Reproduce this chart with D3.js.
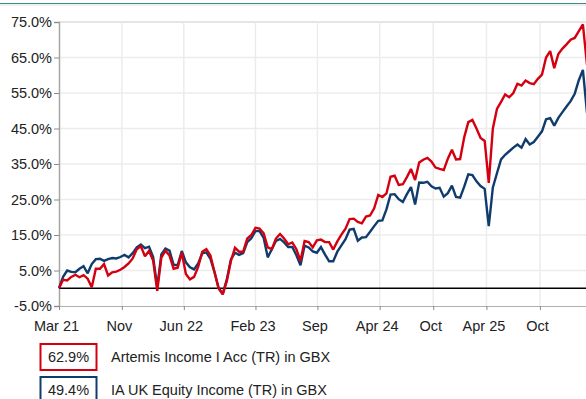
<!DOCTYPE html>
<html>
<head>
<meta charset="utf-8">
<script src="https://cdn.jsdelivr.net/npm/d3@7"></script>
<style>
  html, body { margin: 0; padding: 0; background: #fff; overflow: hidden; }
  svg { display: block; font-family: "Liberation Sans", Arial, sans-serif; }
</style>
</head>
<body>
<svg id="chart" width="586" height="399"></svg>
<script>
// Cumulative total return (%), sampled every 14 days from 31 Mar 2021
const startDate = "2021-03-31";
const stepDays = 14;

const artemis = [
  0, 2.4, 2.2, 3.2, 3.8, 3.1, 3.7, 2.7, 0.3, 5.5,
  5.5, 6.8, 3.6, 4.5, 4.7, 5.2, 6.0, 7.0, 8.4, 11.0,
  11.8, 9.0, 10.5, 7.8, -0.7, 8.6, 10.6, 9.2, 5.5, 5.8,
  10.0, 4.0, 2.5, 3.2, 6.0, 10.3, 11.0, 9.2, 4.5, 0.0,
  -1.7, 2.0, 7.7, 11.4, 10.3, 10.3, 14.0, 15.0, 17.0, 16.8,
  15.5, 11.5, 11.0, 14.0, 15.3, 14.0, 12.4, 12.9, 11.0, 7.7,
  13.3, 13.0, 11.5, 13.5, 13.7, 13.0, 13.0, 10.9, 13.2, 15.1,
  16.8, 19.5, 19.6, 18.7, 18.3, 20.2, 20.5, 22.5, 26.3, 25.7,
  26.7, 31.4, 31.7, 29.1, 29.3, 31.3, 33.6, 30.5, 35.4, 36.2,
  36.7, 35.7, 34.0, 33.6, 33.3, 36.5, 39.0, 36.3, 36.4, 42.5,
  46.8, 47.4, 45.0, 42.3, 41.5, 29.7, 45.0, 50.5, 52.5, 54.6,
  53.8, 55.0, 57.6, 57.1, 58.5, 57.8, 57.5, 59.0, 60.2, 65.0,
  66.8, 62.0, 66.0, 67.5, 68.7, 70.0, 70.5, 72.4, 74.3, 62.9
];

const sector = [
  0, 3.2, 5.0, 4.6, 4.5, 5.5, 6.2, 4.2, 6.8, 8.2,
  8.3, 7.7, 8.2, 8.5, 8.4, 8.8, 9.4, 8.7, 9.9, 11.5,
  12.3, 11.3, 11.7, 8.8, 0.3, 9.5, 11.2, 10.6, 6.6, 6.5,
  10.5, 7.3, 5.9, 5.3, 7.0, 9.8, 10.1, 8.3, 4.5, 0.0,
  -1.6, 2.5, 8.1, 10.0, 9.4, 9.9, 13.0, 14.1, 16.1, 16.1,
  14.2, 8.7, 11.0, 13.3, 13.9, 12.9, 11.6, 11.6, 9.3, 6.5,
  12.0, 11.5, 10.4, 10.0, 11.6, 9.5, 7.6, 7.6, 10.3, 12.1,
  13.8, 16.5, 16.7, 13.4, 14.3, 14.4, 15.9, 17.5, 19.0, 19.1,
  22.2, 26.4, 26.5, 25.1, 24.3, 26.5, 28.5, 23.6, 29.8, 29.7,
  30.0, 28.7, 28.1, 28.3, 25.8, 26.8, 28.9, 25.7, 25.5, 28.6,
  32.1, 31.9, 30.1, 28.8, 28.0, 17.5, 28.4, 32.4, 36.3, 37.6,
  38.6, 39.6, 40.5, 39.6, 42.0, 40.5, 41.2, 42.7, 44.2, 47.6,
  47.9, 45.8, 48.0, 49.6, 51.2, 52.7, 54.8, 58.6, 61.5, 49.4
];

const seriesNames = ["Artemis Income I Acc (TR) in GBX", "IA UK Equity Income (TR) in GBX"];
const seriesColors = ["#d40010", "#0f3c6c"];
const finalLabels = ["62.9%", "49.4%"];

const xTickDates = ["2021-03-31", "2021-11-01", "2022-06-01", "2023-02-01", "2023-09-01",
                    "2024-04-01", "2024-10-01", "2025-04-01", "2025-10-01"];
const xTickLabels = ["Mar 21", "Nov", "Jun 22", "Feb 23", "Sep", "Apr 24", "Oct", "Apr 25", "Oct"];
const yTicks = [-5, 5, 15, 25, 35, 45, 55, 65, 75];

(function draw() {
  const parse = d3.utcParse("%Y-%m-%d");
  const t0 = parse(startDate);
  const dates = artemis.map((_, i) => d3.utcDay.offset(t0, i * stepDays));

  const svg = d3.select("#chart");
  const W = 586;
  const plotLeft = 59, plotTop = 22, plotBottom = 306;
  const plotRight = 587;

  const x = d3.scaleUtc().domain([t0, dates[dates.length - 1]]).range([plotLeft, plotRight]);
  const y = d3.scaleLinear().domain([-5, 75]).range([plotBottom, plotTop]);

  // header rule
  svg.append("line").attr("x1", 0).attr("x2", W).attr("y1", 3.5).attr("y2", 3.5)
    .attr("stroke", "#3b8c84").attr("stroke-width", 1);
  svg.append("line").attr("x1", 0).attr("x2", W).attr("y1", 5).attr("y2", 5)
    .attr("stroke", "#d6e6e4").attr("stroke-width", 1);

  // gridlines
  const grid = svg.append("g").attr("stroke", "#ececec").attr("stroke-width", 1.5);
  yTicks.filter(v => v > -5).forEach(v => {
    const ln = grid.append("line").attr("x1", plotLeft).attr("x2", W)
      .attr("y1", y(v)).attr("y2", y(v));
    if (v === 75) ln.attr("stroke", "#dcdcdc");
  });
  xTickDates.slice(1).forEach(d => {
    grid.append("line").attr("x1", x(parse(d))).attr("x2", x(parse(d)))
      .attr("y1", plotTop).attr("y2", plotBottom);
  });

  // y axis
  const yAxis = d3.axisLeft(y).tickValues(yTicks).tickSize(5).tickPadding(2)
    .tickFormat(v => v.toFixed(1) + "%");
  const gy = svg.append("g").attr("transform", `translate(${plotLeft},0)`).call(yAxis);
  gy.select(".domain").attr("stroke", "#a6a6a6").attr("stroke-width", 1.5);
  gy.selectAll(".tick line").attr("stroke", "#8a8a8a");
  gy.selectAll("text").attr("font-size", "14.5px").attr("fill", "#222")
    .attr("font-family", "'Liberation Sans', Arial, sans-serif");

  // x axis
  const xAxis = d3.axisBottom(x).tickValues(xTickDates.map(parse)).tickSize(4).tickPadding(11)
    .tickFormat((d, i) => xTickLabels[i]);
  const gx = svg.append("g").attr("transform", `translate(0,${plotBottom})`).call(xAxis);
  gx.select(".domain").attr("stroke", "#b0b0b0").attr("stroke-width", 1);
  gx.selectAll(".tick line").attr("stroke", "#8a8a8a");
  gx.selectAll("text").attr("font-size", "14.5px").attr("fill", "#222").attr("dx", "-3")
    .attr("font-family", "'Liberation Sans', Arial, sans-serif");

  // zero line
  svg.append("line").attr("x1", plotLeft).attr("x2", W).attr("y1", y(0)).attr("y2", y(0))
    .attr("stroke", "#000").attr("stroke-width", 1.5);

  // series lines: sector first, fund drawn on top
  const line = d3.line().x((d, i) => x(dates[i])).y(d => y(d));
  [[sector, seriesColors[1]], [artemis, seriesColors[0]]].forEach(([vals, col]) => {
    svg.append("path").datum(vals)
      .attr("d", line)
      .attr("fill", "none")
      .attr("stroke", col)
      .attr("stroke-width", 2.4)
      .attr("stroke-linejoin", "miter")
      .attr("stroke-miterlimit", 2);
  });

  // legend
  const legend = svg.append("g");
  seriesNames.forEach((name, i) => {
    const ly = 344 + i * 33;
    legend.append("rect").attr("x", 40.5).attr("y", ly).attr("width", 56).attr("height", 26)
      .attr("fill", "#fff").attr("stroke", seriesColors[i]).attr("stroke-width", 2);
    legend.append("text").attr("x", 68.5).attr("y", ly + 18).attr("text-anchor", "middle")
      .attr("font-size", "14.5px").attr("fill", "#222").text(finalLabels[i]);
    legend.append("text").attr("x", 111).attr("y", ly + 18)
      .attr("font-size", "14.5px").attr("fill", "#222").text(name);
  });
})();
</script>
</body>
</html>
